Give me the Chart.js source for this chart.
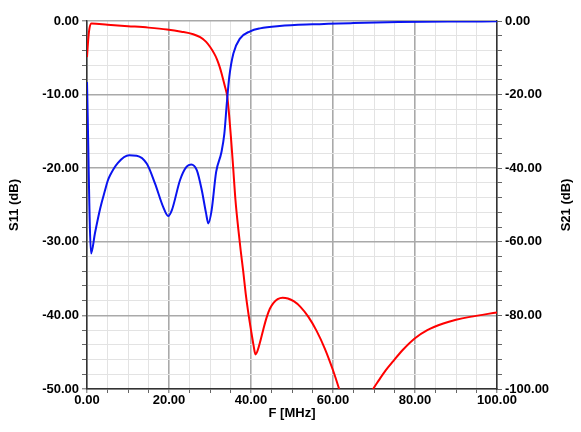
<!DOCTYPE html>
<html>
<head>
<meta charset="utf-8">
<script src="https://cdn.jsdelivr.net/npm/chart.js@4/dist/chart.umd.min.js"></script>
<style>
  html, body { margin: 0; padding: 0; background: #fff; }
  #c { display: block; }
</style>
</head>
<body>
<canvas id="c" width="581" height="432"></canvas>
<script>
// S11 (left axis, dB)
const s11Freq = [0, 1.0, 1.95, 3.2, 4.4, 5.0, 5.6, 7.5, 10.3, 12.1, 14.6, 16.6, 18.6, 19.8, 20.7, 22.7, 24.3, 25.4, 26.8, 28.0, 29.0, 29.6, 30.4, 31.5, 32.8, 33.5, 34.1, 34.7, 35.7, 37.3, 39.8, 42.2, 47, 55, 65, 76, 88, 100];
const s11Db   = [-8.3, -31.6, -28.8, -25.5, -23.0, -21.8, -21.0, -19.3, -18.25, -18.3, -19.4, -22.1, -25.3, -26.5, -25.7, -21.6, -19.8, -19.5, -20.3, -23.0, -26.0, -27.5, -25.7, -20.5, -17.8, -15.3, -11.2, -7.6, -4.4, -2.4, -1.4, -1.0, -0.68, -0.45, -0.28, -0.15, -0.08, -0.05];

// S21 (right axis, dB)
const s21Freq = [0, 0.3, 0.6, 1.1, 5, 10, 15, 19.5, 23, 25.9, 27.6, 29, 30, 31, 31.7, 32.4, 33.0, 33.6, 34.2, 34.7, 35.1, 35.6, 36.2, 36.9, 37.5, 38.1, 38.7, 39.3, 40.0, 40.6, 41.1, 41.6, 42.2, 43.0, 43.8, 44.6, 45.5, 46.5, 47.7, 49.0, 50.5, 52.0, 54.0, 56.0, 58.0, 60.0, 61.5, 62.5, 64.0, 65.5, 67.0, 68.5, 69.8, 71.2, 72.8, 74.7, 77.0, 80.0, 83.0, 86.9, 90.0, 93.4, 100];
const s21Db   = [-9.8, -5.0, -2.0, -0.7, -1.0, -1.4, -1.8, -2.3, -2.9, -3.6, -4.4, -5.6, -7.0, -8.8, -10.4, -12.6, -15.0, -17.6, -20.5, -26.0, -31.5, -39.0, -48.5, -56.5, -62.5, -68.0, -74.0, -79.0, -84.0, -88.0, -90.6, -89.6, -87.3, -83.8, -80.6, -78.2, -76.6, -75.6, -75.2, -75.4, -76.2, -77.6, -80.4, -84.2, -89.0, -94.9, -100.0, -103.7, -110, -120, -108, -103, -100.0, -97.6, -95.0, -92.4, -89.4, -86.2, -84.0, -82.2, -81.2, -80.4, -79.2];

// Axis ranges / tick labels
const xRange = [0, 100];
const s11Range = [-50, 0];
const s21Range = [-100, 0];
const xTitle = 'F [MHz]';
const s11Title = 'S11 (dB)';
const s21Title = 'S21 (dB)';

const MAJOR = '#a9a9a9', MINOR = '#e3e3e3';
const FONT = '"Liberation Sans", Arial, Helvetica, sans-serif';
const toPts = (xs, ys) => xs.map((x, i) => ({ x: x, y: ys[i] }));
const isMul = (v, m) => Math.abs(Math.round(v)) % m === 0;

Chart.defaults.font.family = FONT;
Chart.defaults.font.size = 13;
Chart.defaults.font.weight = 'bold';
Chart.defaults.color = '#000';

// Right-axis title drawn reading bottom-to-top, like the left one
const rightTitle = {
  id: 'rightTitle',
  afterDraw(chart) {
    const ctx = chart.ctx, a = chart.chartArea;
    ctx.save();
    ctx.font = 'bold 13px ' + FONT;
    ctx.fillStyle = '#000';
    ctx.textAlign = 'center';
    ctx.textBaseline = 'middle';
    ctx.translate(chart.width - 15, (a.top + a.bottom) / 2);
    ctx.rotate(-Math.PI / 2);
    ctx.fillText(s21Title, 0, 0);
    ctx.restore();
  }
};

new Chart(document.getElementById('c'), {
  type: 'line',
  data: {
    datasets: [
      { label: 'S11', data: toPts(s11Freq, s11Db), yAxisID: 'y', borderColor: '#0a14f0', borderWidth: 2, pointRadius: 0, cubicInterpolationMode: 'monotone', fill: false },
      { label: 'S21', data: toPts(s21Freq, s21Db), yAxisID: 'y2', borderColor: '#ff0000', borderWidth: 2, pointRadius: 0, cubicInterpolationMode: 'monotone', fill: false }
    ]
  },
  plugins: [rightTitle],
  options: {
    responsive: false,
    animation: false,
    devicePixelRatio: 1,
    layout: { padding: { top: 21, left: 0, right: 0, bottom: 0 } },
    plugins: { legend: { display: false }, tooltip: { enabled: false } },
    scales: {
      x: {
        type: 'linear', min: xRange[0], max: xRange[1],
        afterFit: s => { s.height = 43; },
        ticks: { stepSize: 5, autoSkip: false, maxRotation: 0, padding: 0,
          callback: v => isMul(v, 20) ? v.toFixed(2) : '' },
        grid: {
          color: c => (c.tick && isMul(c.tick.value, 20)) ? MAJOR : MINOR,
          lineWidth: c => (c.tick && isMul(c.tick.value, 20)) ? 1.6 : 1,
          tickColor: '#666', tickLength: 4, tickWidth: 1
        },
        border: { display: true, color: '#333', width: 1.5 },
        title: { display: true, text: xTitle, font: { size: 13, weight: 'bold' }, padding: { top: 0, bottom: 11 } }
      },
      y: {
        type: 'linear', position: 'left', min: s11Range[0], max: s11Range[1],
        afterFit: s => { s.width = 87; },
        ticks: { stepSize: 2, autoSkip: false, padding: 3,
          callback: v => isMul(v, 10) ? v.toFixed(2) : '' },
        grid: {
          color: c => (c.tick && isMul(c.tick.value, 10)) ? MAJOR : MINOR,
          lineWidth: c => (c.tick && isMul(c.tick.value, 10)) ? 1.6 : 1,
          tickColor: '#666', tickLength: 5, tickWidth: 1
        },
        border: { display: true, color: '#333', width: 1.5 },
        title: { display: true, text: s11Title, font: { size: 13, weight: 'bold' }, padding: { top: 7, bottom: 0 } }
      },
      y2: {
        type: 'linear', position: 'right', min: s21Range[0], max: s21Range[1],
        afterFit: s => { s.width = 84; },
        ticks: { stepSize: 4, autoSkip: false, padding: 3,
          callback: v => isMul(v, 20) ? v.toFixed(2) : '' },
        grid: { drawOnChartArea: false, tickColor: '#666', tickLength: 5, tickWidth: 1 },
        border: { display: true, color: '#333', width: 1.5 },
        title: { display: false }
      }
    }
  }
});
</script>
</body>
</html>
